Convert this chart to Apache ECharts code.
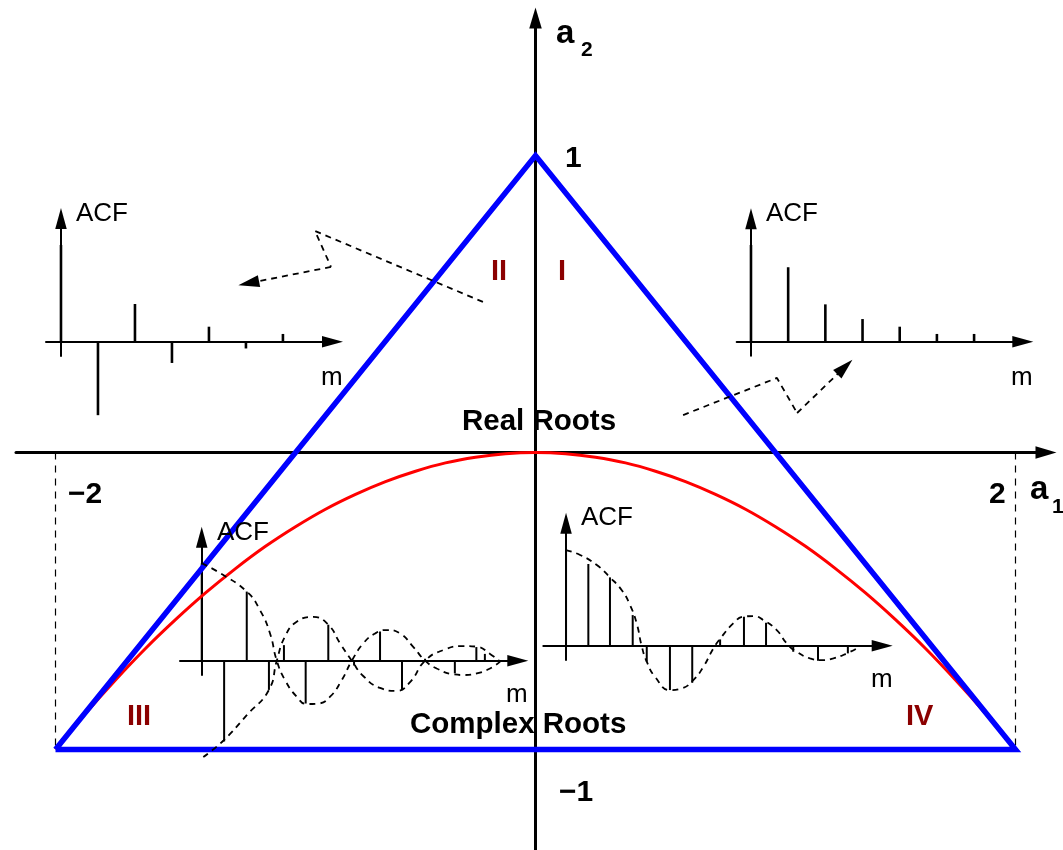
<!DOCTYPE html>
<html><head><meta charset="utf-8">
<script src="https://cdn.jsdelivr.net/npm/echarts@6/dist/echarts.min.js"></script>
<style>html,body{margin:0;padding:0;background:#fff}#c{width:1063px;height:850px}</style>
</head><body><div id="c"></div>
<script>
// ---------- main (a1, a2) plane ----------
const triangleA1 = [-2, 0, 2, -2];
const triangleA2 = [-1, 1, -1, -1];
const boundaryA1 = [-2, -1.875, -1.75, -1.625, -1.5, -1.375, -1.25, -1.125, -1, -0.875, -0.75, -0.625, -0.5, -0.375, -0.25, -0.125, 0,
  0.125, 0.25, 0.375, 0.5, 0.625, 0.75, 0.875, 1, 1.125, 1.25, 1.375, 1.5, 1.625, 1.75, 1.875, 2];
const boundaryA2 = [-1, -0.879, -0.766, -0.660, -0.563, -0.473, -0.391, -0.316, -0.25, -0.191, -0.141, -0.098, -0.063, -0.035, -0.016, -0.004, 0,
  -0.004, -0.016, -0.035, -0.063, -0.098, -0.141, -0.191, -0.25, -0.316, -0.391, -0.473, -0.563, -0.660, -0.766, -0.879, -1];
const guideA1 = [-2, 2];
const guideA2 = [0, -1];
const arrowLeftA1 = [-0.219, -0.919, -0.852, -1.195];
const arrowLeftA2 = [0.507, 0.746, 0.625, 0.570];
const arrowRightA1 = [0.615, 1.006, 1.090, 1.289];
const arrowRightA2 = [0.126, 0.251, 0.133, 0.288];
const a1TickLabels = ['\u22122', '2'];
const a2TickLabels = ['1', '\u22121'];
const regionLabels = ['I', 'II', 'III', 'IV'];
const rootLabels = ['Real Roots', 'Complex Roots'];

// ---------- inset II (top-left) ----------
const lagsII = [0, 1, 2, 3, 4, 5, 6];
const acfII = [1, -0.76, 0.39, -0.22, 0.155, -0.07, 0.08];
// ---------- inset I (top-right) ----------
const lagsI = [0, 1, 2, 3, 4, 5, 6];
const acfI = [1, 0.77, 0.386, 0.234, 0.155, 0.08, 0.08];
// ---------- inset III (bottom-left) ----------
const lagsIII = [0, 1, 2.01, 3, 3.67, 4.64, 5.65, 6.8, 7.96, 8.94, 9.97, 11.3, 12.26, 12.64];
const acfIII = [1, -0.83, 0.71, -0.30, 0.16, -0.44, 0.37, -0.05, 0.30, -0.30, 0.02, -0.13, 0.14, 0.07];
const envAmIII = [0, 0.82, 2.01, 2.60, 3.05, 3.35, 3.72, 4.24, 4.69, 5.21, 5.73, 6.25, 6.70, 7.22, 7.74, 8.26, 8.85, 9.45, 9.97, 10.49, 11.23, 11.68, 12.28, 12.87, 13.32];
const envAvIII = [1.0, 0.90, 0.71, 0.52, 0.28, 0, -0.20, -0.37, -0.445, -0.44, -0.37, -0.20, 0, 0.18, 0.28, 0.315, 0.28, 0.14, 0, -0.08, -0.14, -0.147, -0.13, -0.08, -0.01];
const envBmIII = [0.07, 0.97, 2.01, 3.00, 3.35, 3.72, 4.24, 4.98, 5.65, 6.17, 6.70, 7.22, 7.96, 8.70, 9.30, 9.97, 10.79, 11.68, 12.28, 12.87, 13.32];
const envBvIII = [-0.99, -0.82, -0.56, -0.30, 0, 0.25, 0.40, 0.45, 0.37, 0.18, 0, -0.16, -0.28, -0.31, -0.22, 0, 0.11, 0.15, 0.144, 0.07, -0.01];
// ---------- inset IV (bottom-right) ----------
const lagsIV = [0, 1, 1.97, 2.99, 3.62, 4.66, 5.66, 6.91, 7.98, 8.97, 10.19, 11.3, 12.64];
const acfIV = [1, 0.854, 0.714, 0.32, -0.167, -0.463, -0.387, 0.066, 0.303, 0.24, -0.063, -0.157, -0.08];
const envmIV = [0, 0.63, 1.38, 1.97, 2.50, 2.87, 3.17, 3.39, 3.62, 3.99, 4.66, 5.19, 5.71, 6.16, 6.61, 6.98, 7.50, 7.95, 8.40, 8.85, 9.45, 9.90, 10.34, 10.94, 11.47, 11.99, 12.59, 13.18];
const envvIV = [1.0, 0.948, 0.843, 0.714, 0.58, 0.425, 0.233, 0, -0.167, -0.324, -0.463, -0.446, -0.359, -0.22, -0.028, 0.094, 0.233, 0.303, 0.31, 0.268, 0.164, 0.024, -0.063, -0.132, -0.15, -0.132, -0.08, -0.01];
const insetAxisNames = ['ACF', 'm'];

const zip = (a, b) => a.map((v, i) => [v, b[i]]);
const FONT = '"Liberation Sans", Arial, Helvetica, sans-serif';
const BLUE = '#0000ff', RED = '#ff0000', DARKRED = '#8b0000';

const grids = [
  { left: 16, top: 18, width: 1030, height: 832 },
  { left: 46, top: 218.5, width: 286.5, height: 137.5 },
  { left: 736.7, top: 218.8, width: 286.1, height: 136.9 },
  { left: 180, top: 537.2, width: 337.8, height: 137.8 },
  { left: 543.3, top: 523.2, width: 338.9, height: 136.8 }
];
const xr = [[-2.1646, 2.1271], [-0.405, 7.34], [-0.384, 7.31], [-0.97, 14.11], [-1.02, 14.18]];
const yr = [[-1.3384, 1.4630], [-0.148, 1.274], [-0.145, 1.271], [-0.147, 1.269], [-0.149, 1.28]];

function axis(i, isMain) {
  return {
    gridIndex: i, type: 'value',
    axisLine: { show: true, onZero: true, symbol: ['none', 'triangle'],
      symbolSize: isMain ? [12.5, 21] : [11.5, 21],
      lineStyle: { color: '#000', width: isMain ? 3 : 2 } },
    axisTick: { show: false }, axisLabel: { show: false }, splitLine: { show: false }
  };
}
const xAxes = grids.map((g, i) => Object.assign(axis(i, i === 0), { min: xr[i][0], max: xr[i][1] }));
const yAxes = grids.map((g, i) => Object.assign(axis(i, i === 0), { min: yr[i][0], max: yr[i][1] }));

const dashStyle = { color: '#000', width: 1.8, type: [6, 5] };
const series = [];
// guide dashed verticals
guideA1.forEach(a => {
  series.push({ type: 'line', xAxisIndex: 0, yAxisIndex: 0, showSymbol: false, symbol: 'none', silent: true,
    data: guideA2.map(v => [a, v]), lineStyle: { color: '#000', width: 1.2, type: [7, 6] } });
});
// parabola boundary
series.push({ type: 'line', xAxisIndex: 0, yAxisIndex: 0, smooth: 0.3, symbol: 'none', silent: true,
  data: zip(boundaryA1, boundaryA2), lineStyle: { color: RED, width: 3 } });
// stationarity triangle
series.push({ type: 'line', xAxisIndex: 0, yAxisIndex: 0, symbol: 'none', silent: true,
  data: zip(triangleA1, triangleA2), lineStyle: { color: BLUE, width: 5.5, join: 'miter', miterLimit: 10 } });
// dashed pointer arrows
[[arrowLeftA1, arrowLeftA2], [arrowRightA1, arrowRightA2]].forEach(([A1, A2]) => {
  const pts = zip(A1, A2);
  series.push({ type: 'line', xAxisIndex: 0, yAxisIndex: 0, symbol: 'none', silent: true,
    data: pts.slice(0, 3), lineStyle: dashStyle,
    markLine: { silent: true, symbol: ['none', 'triangle'], symbolSize: [12, 21],
      label: { show: false }, lineStyle: { color: '#000', width: 1.8, type: [6, 5] },
      data: [[{ coord: pts[2] }, { coord: pts[3] }]] } });
});
// insets
function stems(idx, lags, acf, w) {
  series.push({ type: 'bar', xAxisIndex: idx, yAxisIndex: idx, barWidth: w, clip: false, silent: true,
    itemStyle: { color: '#000' }, data: zip(lags, acf) });
}
function env(idx, m, v) {
  series.push({ type: 'line', xAxisIndex: idx, yAxisIndex: idx, smooth: true, symbol: 'none', clip: false, silent: true,
    data: zip(m, v), lineStyle: dashStyle });
}
stems(1, lagsII, acfII, 2.6);
stems(2, lagsI, acfI, 2.6);
stems(3, lagsIII, acfIII, 2);
env(3, envAmIII, envAvIII);
env(3, envBmIII, envBvIII);
stems(4, lagsIV, acfIV, 2);
env(4, envmIV, envvIV);

// texts (baseline positions)
function T(text, x, base, size, bold, color) {
  return { type: 'text', x: x, y: base - 0.35 * size, z: 100, silent: true,
    style: { text: text, font: (bold ? 'bold ' : '') + size + 'px ' + FONT, fill: color || '#000',
      textAlign: 'left', textVerticalAlign: 'middle' } };
}
const graphics = [
  T('a', 556, 45, 33, true), T('2', 581, 58, 21, true),
  T('a', 1030, 501, 33, true), T('1', 1052, 515, 21, true),
  T(a1TickLabels[0], 68, 505, 30, true), T(a1TickLabels[1], 989, 505, 30, true),
  T(a2TickLabels[0], 565, 169, 30, true), T(a2TickLabels[1], 559, 803, 30, true),
  T(rootLabels[0], 462, 432, 29.5, true), T(rootLabels[1], 410, 735, 29.5, true),
  T(regionLabels[1], 491, 282, 29, true, DARKRED), T(regionLabels[0], 558, 282, 29, true, DARKRED),
  T(regionLabels[2], 127, 727, 29, true, DARKRED), T(regionLabels[3], 906, 727, 29, true, DARKRED),
  T(insetAxisNames[0], 76, 223, 26, false), T(insetAxisNames[1], 321, 387, 26, false),
  T(insetAxisNames[0], 766, 223, 26, false), T(insetAxisNames[1], 1011, 387, 26, false),
  T(insetAxisNames[0], 217, 542, 26, false), T(insetAxisNames[1], 506, 704, 26, false),
  T(insetAxisNames[0], 581, 527, 26, false), T(insetAxisNames[1], 871, 689, 26, false)
];

const chart = echarts.init(document.getElementById('c'), null, { renderer: 'canvas' });
chart.setOption({
  animation: false,
  backgroundColor: '#fff',
  grid: grids,
  xAxis: xAxes,
  yAxis: yAxes,
  series: series,
  graphic: { elements: graphics }
});
</script>
</body></html>
